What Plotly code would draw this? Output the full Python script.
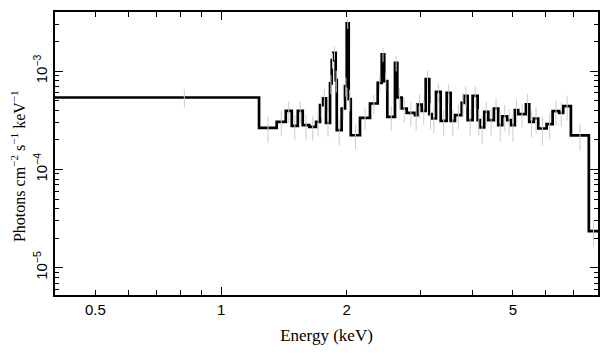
import plotly.graph_objects as go
import math

# Bin edges (keV) and flux values (photons cm^-2 s^-1 keV^-1)
bin_edges = [0.400, 1.233, 1.359, 1.429, 1.477, 1.527, 1.569, 1.627, 1.689, 1.726,
             1.752, 1.784, 1.824, 1.841, 1.857, 1.882, 1.893, 1.945, 1.981, 2.000,
             2.022, 2.045, 2.152, 2.274, 2.373, 2.426, 2.460, 2.502, 2.610, 2.644,
             2.709, 2.785, 2.914, 2.953, 3.025, 3.092, 3.154, 3.196, 3.273, 3.359,
             3.472, 3.548, 3.634, 3.771, 3.825, 3.897, 4.006, 4.118, 4.171, 4.271,
             4.367, 4.505, 4.613, 4.716, 4.849, 4.949, 5.058, 5.151, 5.375, 5.474,
             5.617, 5.752, 6.025, 6.228, 6.459, 6.603, 6.889, 7.605, 8.0]

flux = [5.40e-4, 2.65e-4, 3.05e-4, 3.95e-4, 2.78e-4, 3.95e-4, 2.82e-4, 2.71e-4, 3.05e-4, 4.51e-4,
        5.28e-4, 2.98e-4, 7.50e-4, 1.294e-3, 1.535e-3, 8.10e-4, 2.51e-4, 4.17e-4, 7.04e-4, 3.06e-3,
        5.19e-4, 2.23e-4, 3.35e-4, 4.69e-4, 7.60e-4, 1.479e-3, 7.91e-4, 3.43e-4, 1.214e-3, 5.40e-4,
        4.17e-4, 3.77e-4, 3.57e-4, 4.58e-4, 3.95e-4, 8.29e-4, 3.65e-4, 3.30e-4, 6.16e-4, 3.12e-4,
        6.02e-4, 3.12e-4, 3.57e-4, 4.76e-4, 5.61e-4, 3.17e-4, 5.61e-4, 3.17e-4, 2.68e-4, 3.85e-4,
        3.17e-4, 4.17e-4, 2.82e-4, 3.48e-4, 3.17e-4, 2.82e-4, 4.01e-4, 3.65e-4, 4.61e-4, 3.05e-4,
        3.30e-4, 2.61e-4, 2.89e-4, 3.92e-4, 3.77e-4, 4.40e-4, 2.22e-4, 2.36e-5]

# Relative 1-sigma errors per bin
err_frac = [0.22, 0.30, 0.28, 0.25, 0.28, 0.25, 0.28, 0.28, 0.28, 0.25,
            0.25, 0.28, 0.22, 0.18, 0.16, 0.25, 0.30, 0.25, 0.22, 0.12,
            0.25, 0.28, 0.25, 0.22, 0.20, 0.16, 0.20, 0.28, 0.18, 0.25,
            0.28, 0.28, 0.30, 0.28, 0.28, 0.22, 0.30, 0.30, 0.22, 0.30,
            0.22, 0.30, 0.28, 0.28, 0.25, 0.30, 0.25, 0.30, 0.32, 0.28,
            0.30, 0.28, 0.32, 0.30, 0.30, 0.32, 0.28, 0.28, 0.28, 0.30,
            0.30, 0.32, 0.30, 0.28, 0.28, 0.28, 0.30, 0.30]

x_tick_vals = [0.5, 1, 2, 5]
x_tick_text = ["0.5", "1", "2", "5"]
x_minor_vals = [0.6, 0.7, 0.8, 0.9, 3, 4, 6, 7]
y_tick_vals = [1e-5, 1e-4, 1e-3]
y_tick_text = ["10<sup>\u22125</sup>", "10<sup>\u22124</sup>", "10<sup>\u22123</sup>"]
y_minor_vals = [6e-6, 7e-6, 8e-6, 9e-6,
                2e-5, 3e-5, 4e-5, 5e-5, 6e-5, 7e-5, 8e-5, 9e-5,
                2e-4, 3e-4, 4e-4, 5e-4, 6e-4, 7e-4, 8e-4, 9e-4,
                2e-3, 3e-3]

assert len(bin_edges) == len(flux) + 1 == len(err_frac) + 1

centers = [(bin_edges[i] + bin_edges[i + 1]) / 2 for i in range(len(flux))]
err = [f * e for f, e in zip(flux, err_frac)]

xr = [math.log10(0.4), math.log10(8.0)]
yr = [-5.277, -2.398]

fig = go.Figure()

# gray error bars (drawn first, underneath)
fig.add_trace(go.Scatter(
    x=centers, y=flux, mode="markers",
    marker=dict(size=0.1, color="rgba(0,0,0,0)"),
    error_y=dict(type="data", array=err, arrayminus=err, color="#cccccc",
                 thickness=1, width=0),
    xaxis="x2", hoverinfo="skip", showlegend=False))

# black step histogram
fig.add_trace(go.Scatter(
    x=bin_edges, y=flux + [flux[-1]], mode="lines", line_shape="hv",
    line=dict(color="black", width=2.7), showlegend=False))

tickfont = dict(family="Liberation Sans, Arial, sans-serif", size=15, color="black")
titlefont = dict(family="Liberation Serif, Times New Roman, serif", size=16, color="black")
xtitlefont = dict(family="Liberation Serif, Times New Roman, serif", size=17, color="black")

fig.update_layout(
    width=609, height=357,
    margin=dict(l=55, r=11, t=12, b=62),
    plot_bgcolor="white", paper_bgcolor="white",
    xaxis=dict(type="log", range=xr, showgrid=False, zeroline=False, automargin=False,
               showline=True, linecolor="black", linewidth=1.5, mirror="ticks",
               ticks="inside", ticklen=5, tickwidth=1.3, tickcolor="black",
               tickvals=x_tick_vals, ticktext=x_tick_text, tickfont=tickfont,
               minor=dict(tickvals=x_minor_vals, ticks="inside", ticklen=5,
                          tickwidth=1.3, tickcolor="black", showgrid=False),
               title=dict(text="Energy (keV)", font=xtitlefont, standoff=12)),
    xaxis2=dict(type="log", range=xr, overlaying="x", anchor="y", side="bottom",
                showgrid=False, zeroline=False, showline=False, mirror="ticks",
                automargin=False,
                ticks="inside", ticklen=8, tickwidth=1.3, tickcolor="black",
                tickvals=[1], showticklabels=False),
    yaxis=dict(type="log", range=yr, showgrid=False, zeroline=False, automargin=False,
               showline=True, linecolor="black", linewidth=1.5, mirror="ticks",
               ticks="inside", ticklen=8, tickwidth=1.3, tickcolor="black",
               tickvals=y_tick_vals, ticktext=y_tick_text, tickangle=-90,
               tickfont=tickfont,
               minor=dict(tickvals=y_minor_vals, ticks="inside", ticklen=4,
                          tickwidth=1.3, tickcolor="black", showgrid=False)),
    annotations=[dict(text="Photons cm<sup>\u22122</sup> s<sup>\u22121</sup> keV<sup>\u22121</sup>",
                      xref="paper", yref="paper", x=-0.068, y=0.456,
                      xanchor="center", yanchor="middle", textangle=-90,
                      showarrow=False, font=titlefont)],
)

fig.write_html("out.html", config={"displayModeBar": False},
               post_script="document.body.style.margin='0';document.body.style.padding='0';document.body.style.overflow='hidden';")
